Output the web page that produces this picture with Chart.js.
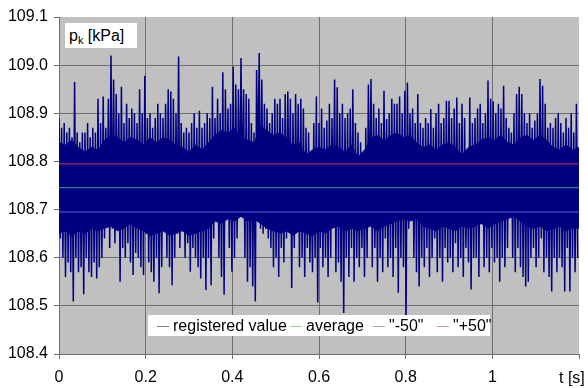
<!DOCTYPE html>
<html lang="en">
<head>
  <meta charset="UTF-8" />
  <title>p_k registered value</title>
  <script src="https://cdn.jsdelivr.net/npm/chart.js"></script>
  <style>
    body {
      margin: 0;
      background: #fff;
      font-family: "Liberation Sans", Arial, sans-serif;
    }
    .wrap {
      position: relative;
      width: 588px;
      height: 388px;
    }
    canvas {
      display: block;
    }
    .unit-box {
      position: absolute;
      left: 65px;
      top: 23px;
      width: 72px;
      height: 25px;
      background: #fff;
      font-size: 16px;
      line-height: 25px;
      padding-left: 4px;
      box-sizing: border-box;
      color: #000;
    }
    .unit-box sub {
      font-size: 11px;
      vertical-align: -3px;
      line-height: 0;
    }
    .legend-box {
      position: absolute;
      left: 148px;
      top: 315px;
      width: 342px;
      height: 21px;
      background: #fff;
    }
    .legend-item {
      position: absolute;
      top: 0;
      height: 21px;
      line-height: 21px;
      font-size: 16px;
      color: #000;
      white-space: nowrap;
    }
    .legend-item i {
      display: inline-block;
      width: 12px;
      border-top: 1px solid;
      vertical-align: middle;
      margin-right: 4px;
    }
    .t-label {
      position: absolute;
      left: 559px;
      top: 368px;
      font-size: 16px;
      line-height: 19px;
      color: #000;
    }
  </style>
</head>
<body>
  <div class="wrap">
    <canvas id="pkChart" width="588" height="388"></canvas>
    <div class="unit-box">p<sub>k</sub> [kPa]</div>
    <div class="legend-box" id="legendBox"></div>
    <div class="t-label">t [s]</div>
  </div>

  <script>
    // sampling step of the registered signal (s)
    const sampleStep = 0.003;

    // local maxima of the registered pressure (kPa)
    const highs = [
      108.89, 108.87, 108.88, 108.86, 108.87, 108.85, 108.965, 108.86, 108.84, 108.86,
      108.86, 108.88, 108.85, 108.87, 108.86, 108.93, 108.88, 108.935, 108.87, 108.93,
      109.02, 108.97, 108.94, 108.9, 108.955, 108.88, 108.92, 108.89, 108.91, 108.9,
      108.88, 108.95, 108.9, 108.978, 108.89, 108.9, 108.87, 108.89, 108.92, 108.9,
      108.89, 108.92, 108.95, 108.945, 108.93, 108.9, 109.018, 108.88, 108.86, 108.87,
      108.86, 108.88, 108.9, 108.87, 108.905, 108.87, 108.88, 108.9, 108.89, 108.955,
      108.89, 108.93, 108.9, 108.985, 108.95, 108.91, 108.92, 108.997, 108.96, 108.95,
      109.015, 108.95, 108.94, 108.93, 108.88, 108.86, 108.99, 109.025, 108.97, 108.92,
      108.91, 108.88, 108.9, 108.93, 108.92, 108.93, 108.89, 108.94, 108.945, 108.93,
      108.9, 108.94, 108.92, 108.93, 108.91, 108.87, 108.86, 108.785, 108.88, 108.935,
      108.88, 108.91, 108.87, 108.885, 108.92, 108.89, 108.97, 108.954, 108.9, 108.92,
      108.89, 108.9, 108.91, 108.95, 108.88, 108.86, 108.84, 108.8, 108.87, 108.96,
      108.971, 108.92, 108.89, 108.91, 108.88, 108.947, 108.888, 108.9, 108.93, 108.92,
      108.92, 108.935, 108.9, 108.947, 108.964, 108.9, 108.91, 108.88, 108.94, 108.88,
      108.87, 108.89, 108.88, 108.909, 108.87, 108.9, 108.92, 108.88, 108.89, 108.926,
      108.926, 108.89, 108.91, 108.933, 108.88, 108.92, 108.89, 108.8, 108.933, 108.88,
      108.89, 108.91, 108.92, 108.88, 108.9, 108.968, 108.93, 108.925, 108.9, 108.92,
      108.91, 108.957, 108.89, 108.87, 108.86, 108.9, 108.94, 108.955, 108.94, 108.9,
      108.88, 108.9, 108.87, 108.885, 108.9, 108.971, 108.957, 108.92, 108.87, 108.88,
      108.87, 108.89, 108.9, 108.88, 108.86, 108.89, 108.87, 108.9, 108.86, 108.92
    ];

    // local minima of the registered pressure (kPa)
    const lows = [
      108.64, 108.6, 108.56, 108.59, 108.57, 108.509, 108.6, 108.57, 108.58, 108.524,
      108.6, 108.57, 108.56, 108.59, 108.557, 108.58, 108.6, 108.64, 108.69, 108.62,
      108.66, 108.63, 108.68, 108.55, 108.62, 108.6, 108.63, 108.59, 108.564, 108.61,
      108.6, 108.58, 108.564, 108.65, 108.59, 108.57, 108.55, 108.6, 108.526, 108.58,
      108.674, 108.6, 108.58, 108.543, 108.6, 108.65, 108.62, 108.66, 108.6, 108.63,
      108.571, 108.62, 108.6, 108.58, 108.557, 108.6, 108.533, 108.6, 108.543, 108.64,
      108.702, 108.6, 108.56, 108.523, 108.688, 108.62, 108.571, 108.6, 108.64, 108.71,
      108.72, 108.6, 108.55, 108.58, 108.54, 108.509, 108.787, 108.66, 108.65, 108.66,
      108.64, 108.62, 108.58, 108.6, 108.56, 108.62, 108.59, 108.64, 108.7, 108.537,
      108.62, 108.671, 108.58, 108.6, 108.56, 108.62, 108.59, 108.57, 108.6, 108.507,
      108.62, 108.58, 108.6, 108.56, 108.6, 108.676, 108.57, 108.59, 108.55, 108.485,
      108.6, 108.56, 108.62, 108.55, 108.6, 108.58, 108.62, 108.56, 108.6, 108.69,
      108.58, 108.62, 108.55, 108.6, 108.57, 108.64, 108.58, 108.6, 108.56, 108.62,
      108.527, 108.6, 108.58, 108.478, 108.66, 108.72, 108.6, 108.57, 108.54, 108.6,
      108.58, 108.62, 108.56, 108.6, 108.64, 108.57, 108.6, 108.55, 108.62, 108.59,
      108.6, 108.57, 108.63, 108.58, 108.6, 108.56, 108.62, 108.59, 108.534, 108.6,
      108.6, 108.56, 108.686, 108.58, 108.6, 108.57, 108.62, 108.59, 108.6, 108.55,
      108.6, 108.58, 108.62, 108.72, 108.6, 108.57, 108.62, 108.58, 108.56, 108.54,
      108.55, 108.6, 108.62, 108.58, 108.6, 108.64, 108.57, 108.6, 108.56, 108.53,
      108.6, 108.57, 108.6, 108.58, 108.53, 108.62, 108.53, 108.6, 108.57, 108.6
    ];

    // edges of the solid part of the signal band, every 0.015 s
    const bandStep = 0.015;
    const bandTop = [
      108.84, 108.835, 108.845, 108.83, 108.82, 108.83, 108.825, 108.845, 108.855, 108.85,
      108.84, 108.85, 108.845, 108.835, 108.85, 108.84, 108.85, 108.845, 108.835, 108.83,
      108.82, 108.835, 108.825, 108.84, 108.855, 108.865, 108.86, 108.87, 108.85, 108.845,
      108.84, 108.875, 108.865, 108.855, 108.86, 108.85, 108.835, 108.84, 108.815, 108.825,
      108.83, 108.825, 108.835, 108.83, 108.82, 108.835, 108.81, 108.825, 108.85, 108.855,
      108.845, 108.855, 108.86, 108.85, 108.855, 108.84, 108.83, 108.835, 108.825, 108.835,
      108.84, 108.83, 108.815, 108.83, 108.835, 108.845, 108.85, 108.845, 108.855, 108.84,
      108.835, 108.85, 108.855, 108.845, 108.855, 108.845, 108.83, 108.825, 108.835, 108.825,
      108.83
    ];
    const bandBottom = [
      108.65, 108.655, 108.645, 108.655, 108.65, 108.66, 108.655, 108.66, 108.665, 108.655,
      108.66, 108.67, 108.66, 108.655, 108.645, 108.65, 108.655, 108.645, 108.65, 108.655,
      108.645, 108.65, 108.655, 108.66, 108.675, 108.67, 108.68, 108.675, 108.685, 108.675,
      108.68, 108.67, 108.66, 108.655, 108.65, 108.655, 108.645, 108.655, 108.65, 108.645,
      108.655, 108.65, 108.66, 108.665, 108.655, 108.66, 108.655, 108.66, 108.665, 108.655,
      108.665, 108.67, 108.675, 108.68, 108.675, 108.68, 108.665, 108.66, 108.655, 108.665,
      108.66, 108.655, 108.665, 108.66, 108.665, 108.67, 108.66, 108.67, 108.675, 108.68,
      108.685, 108.675, 108.665, 108.66, 108.665, 108.655, 108.66, 108.665, 108.655, 108.66,
      108.66
    ];

    const averageValue = 108.7455;
    const minus50Value = 108.695;
    const plus50Value = 108.795;

    const tStart = 0;
    const tEnd = 1.2;

    const xTickLabels = ['0', '0.2', '0.4', '0.6', '0.8', '1', ''];
    const yTickLabels = ['108.4', '108.5', '108.6', '108.7', '108.8', '108.9', '109.0', '109.1'];

    const seriesNames = ['registered value', 'average', '"-50"', '"+50"'];
    const legendColors = ['#7c7c96', '#9ccc9c', '#98a8c8', '#c89c9c'];

    // samples alternate between a maximum and a minimum
    const registered = [];
    highs.forEach((h, k) => {
      registered.push({ x: 2 * k * sampleStep, y: h });
      registered.push({ x: (2 * k + 1) * sampleStep, y: lows[k] });
    });
    const bandTopPts = bandTop.map((v, i) => ({ x: i * bandStep, y: v }));
    const bandBottomPts = bandBottom.map((v, i) => ({ x: i * bandStep, y: v }));

    function flatLine(v) {
      return [{ x: tStart, y: v }, { x: tEnd, y: v }];
    }

    const plotBackground = {
      id: 'plotBackground',
      beforeDraw(chart) {
        const { ctx, chartArea } = chart;
        ctx.save();
        ctx.fillStyle = '#c0c0c0';
        ctx.fillRect(chartArea.left, chartArea.top, chartArea.width, chartArea.height);
        ctx.restore();
      }
    };

    Chart.defaults.font.family = '"Liberation Sans", Arial, sans-serif';
    Chart.defaults.font.size = 16;
    Chart.defaults.color = '#000';

    const ctx = document.getElementById('pkChart').getContext('2d');
    const pkChart = new Chart(ctx, {
      type: 'line',
      data: {
        datasets: [
          { label: seriesNames[0], data: registered, borderColor: '#000080', borderWidth: 1.5, order: 4 },
          { label: 'band', data: bandTopPts, borderWidth: 0, borderColor: 'rgba(0,0,0,0)', backgroundColor: '#000080', fill: '+1', order: 5 },
          { label: 'band bottom', data: bandBottomPts, borderWidth: 0, borderColor: 'rgba(0,0,0,0)', order: 6 },
          { label: seriesNames[1], data: flatLine(averageValue), borderColor: '#3aa070', borderWidth: 1, order: 2 },
          { label: seriesNames[2], data: flatLine(minus50Value), borderColor: '#5c64dc', borderWidth: 1, order: 3 },
          { label: seriesNames[3], data: flatLine(plus50Value), borderColor: '#c8344e', borderWidth: 1, order: 1 }
        ]
      },
      options: {
        responsive: false,
        animation: false,
        events: [],
        elements: {
          point: { radius: 0 },
          line: { tension: 0 }
        },
        layout: { padding: { top: 17, right: 4, left: 0, bottom: 0 } },
        plugins: {
          legend: { display: false },
          tooltip: { enabled: false }
        },
        scales: {
          x: {
            type: 'linear',
            min: tStart,
            max: tEnd,
            afterFit: s => { s.height = 34; },
            ticks: {
              stepSize: 0.2,
              padding: 9,
              maxRotation: 0,
              callback: (v, i) => xTickLabels[i]
            },
            grid: {
              color: c => (c.index === xTickLabels.length - 1 ? 'rgba(0,0,0,0)' : '#6e6e6e'),
              tickColor: '#6e6e6e',
              tickLength: 5,
              lineWidth: 1
            },
            border: { color: '#6e6e6e' }
          },
          y: {
            min: 108.4,
            max: 109.1,
            afterFit: s => { s.width = 59; },
            ticks: {
              stepSize: 0.1,
              padding: 6,
              callback: (v, i) => yTickLabels[i]
            },
            grid: {
              color: c => (c.index === yTickLabels.length - 1 ? 'rgba(0,0,0,0)' : '#6e6e6e'),
              tickColor: '#6e6e6e',
              tickLength: 5,
              lineWidth: 1
            },
            border: { color: '#6e6e6e' }
          }
        }
      },
      plugins: [plotBackground]
    });

    // legend inside the plot, like the original
    const legendLeft = [9, 142, 225, 289];
    const legendBox = document.getElementById('legendBox');
    seriesNames.forEach((name, i) => {
      const item = document.createElement('div');
      item.className = 'legend-item';
      item.style.left = legendLeft[i] + 'px';
      const mark = document.createElement('i');
      mark.style.borderColor = legendColors[i];
      item.appendChild(mark);
      item.appendChild(document.createTextNode(name));
      legendBox.appendChild(item);
    });
  </script>
</body>
</html>
